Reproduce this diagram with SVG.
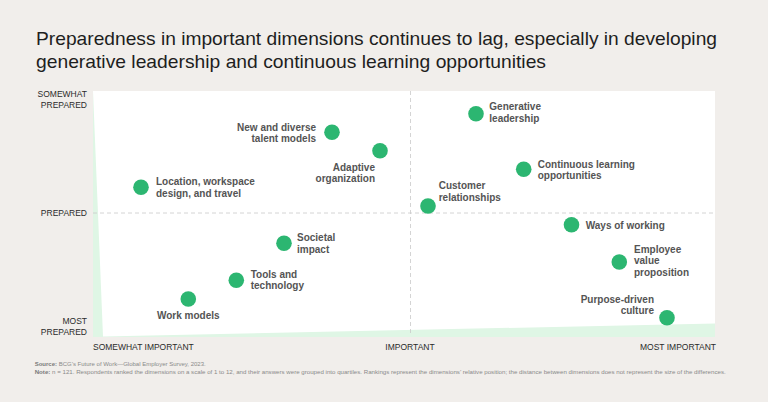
<svg xmlns="http://www.w3.org/2000/svg" width="768" height="402" viewBox="0 0 768 402">
<style>
.title{font-family:"Liberation Sans",Arial,sans-serif;font-size:19px;fill:#1e1e1e}
.ax{font-family:"Liberation Sans",Arial,sans-serif;font-size:8.5px;fill:#2a2a2a}
.lbl{font-family:"Liberation Sans",Arial,sans-serif;font-size:10px;font-weight:bold;fill:#545454}
.r{text-anchor:end}
.m{text-anchor:middle}
.dot{fill:#2cb671}
.grid{stroke:#c9c9c9;stroke-width:0.8;stroke-dasharray:4 3;fill:none}
.fn{font-family:"Liberation Sans",Arial,sans-serif;font-size:5.9px;fill:#8a8a8a}
.fn tspan.b{font-weight:bold;fill:#7a7a7a}
</style>
<rect width="768" height="402" fill="#f1eeeb"/>
<g id="title">
<text class="title" x="36" y="45" textLength="681" lengthAdjust="spacingAndGlyphs">Preparedness in important dimensions continues to lag, especially in developing</text>
<text class="title" x="36" y="68" textLength="510" lengthAdjust="spacingAndGlyphs">generative leadership and continuous learning opportunities</text>
</g>
<g id="plot">
<rect x="93" y="91" width="622" height="246" fill="#dff6e5"/>
<polygon points="93,91 715,91 715,323.5 103,336.5" fill="#ffffff"/>
</g>
<g id="connectors">
<line class="grid" x1="410.5" y1="91" x2="410.5" y2="336"/>
<line class="grid" x1="93" y1="213" x2="715" y2="213"/>
</g>
<g id="axis-labels">
<text class="ax r" x="87" y="97">SOMEWHAT</text>
<text class="ax r" x="87" y="107.7">PREPARED</text>
<text class="ax r" x="87" y="215.8">PREPARED</text>
<text class="ax r" x="87" y="324">MOST</text>
<text class="ax r" x="87" y="335.4">PREPARED</text>
<text class="ax" x="93" y="349.8" textLength="100.7" lengthAdjust="spacingAndGlyphs">SOMEWHAT IMPORTANT</text>
<text class="ax m" x="410" y="349.8">IMPORTANT</text>
<text class="ax r" x="716" y="349.8">MOST IMPORTANT</text>
</g>
<g id="node-new-diverse-talent">
<circle class="dot" cx="332" cy="132.3" r="7.8"/>
<text class="lbl r" x="316" y="130.5">New and diverse</text>
<text class="lbl r" x="316" y="142.3">talent models</text>
</g>
<g id="node-adaptive-org">
<circle class="dot" cx="380" cy="150.7" r="7.8"/>
<text class="lbl r" x="375" y="170.5">Adaptive</text>
<text class="lbl r" x="375" y="182.1">organization</text>
</g>
<g id="node-location">
<circle class="dot" cx="141" cy="187.3" r="7.8"/>
<text class="lbl" x="156" y="184.8">Location, workspace</text>
<text class="lbl" x="156" y="196.5">design, and travel</text>
</g>
<g id="node-societal-impact">
<circle class="dot" cx="284" cy="243.3" r="7.8"/>
<text class="lbl" x="297" y="241.1">Societal</text>
<text class="lbl" x="297" y="252.8">impact</text>
</g>
<g id="node-tools-technology">
<circle class="dot" cx="236.3" cy="280.3" r="7.8"/>
<text class="lbl" x="250.7" y="277.8">Tools and</text>
<text class="lbl" x="250.7" y="289.1">technology</text>
</g>
<g id="node-work-models">
<circle class="dot" cx="188.3" cy="299" r="7.8"/>
<text class="lbl m" x="188.3" y="319.1">Work models</text>
</g>
<g id="node-generative-leadership">
<circle class="dot" cx="476" cy="113.7" r="7.8"/>
<text class="lbl" x="489.3" y="110.1">Generative</text>
<text class="lbl" x="489.3" y="121.5">leadership</text>
</g>
<g id="node-continuous-learning">
<circle class="dot" cx="523.7" cy="169.3" r="7.8"/>
<text class="lbl" x="537.7" y="167.5">Continuous learning</text>
<text class="lbl" x="537.7" y="179.1">opportunities</text>
</g>
<g id="node-customer-relationships">
<circle class="dot" cx="428" cy="206" r="7.8"/>
<text class="lbl" x="438.7" y="189.1">Customer</text>
<text class="lbl" x="438.7" y="200.5">relationships</text>
</g>
<g id="node-ways-of-working">
<circle class="dot" cx="571.5" cy="224.7" r="7.8"/>
<text class="lbl" x="585.7" y="228.5">Ways of working</text>
</g>
<g id="node-employee-value">
<circle class="dot" cx="619.3" cy="262" r="7.8"/>
<text class="lbl" x="634" y="252.5">Employee</text>
<text class="lbl" x="634" y="264.1">value</text>
<text class="lbl" x="634" y="275.8">proposition</text>
</g>
<g id="node-purpose-driven">
<circle class="dot" cx="667" cy="317.7" r="7.8"/>
<text class="lbl r" x="654" y="302.8">Purpose-driven</text>
<text class="lbl r" x="654" y="314.1">culture</text>
</g>
<g id="footnotes">
<text class="fn" x="34.7" y="366" textLength="171" lengthAdjust="spacingAndGlyphs"><tspan class="b">Source:</tspan> BCG’s Future of Work—Global Employer Survey, 2023.</text>
<text class="fn" x="34.7" y="374.3" textLength="691" lengthAdjust="spacingAndGlyphs"><tspan class="b">Note:</tspan> n = 121. Respondents ranked the dimensions on a scale of 1 to 12, and their answers were grouped into quartiles. Rankings represent the dimensions’ relative position; the distance between dimensions does not represent the size of the differences.</text>
</g>
</svg>
